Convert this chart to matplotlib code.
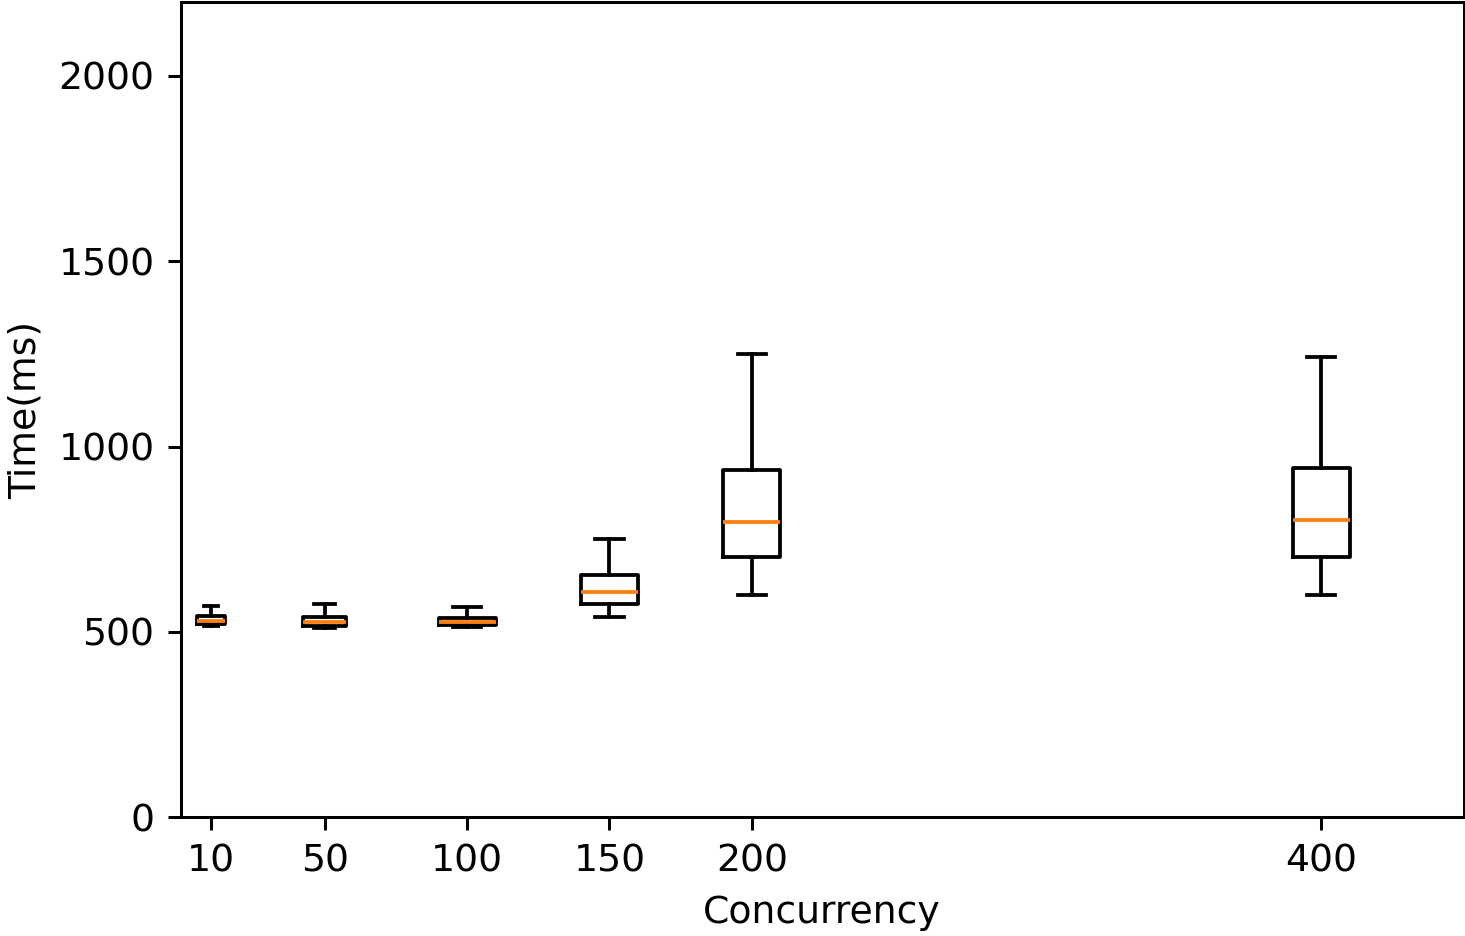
import matplotlib
matplotlib.use('Agg')
from matplotlib import pyplot as plt

# concurrency levels and box statistics (ms)
concurrency = [10, 50, 100, 150, 200, 400]
whislo = [515, 511, 514, 541, 600, 600]
q1 = [522, 516, 519, 576, 703, 703]
med = [530, 527, 527, 608, 797, 803]
q3 = [542, 540, 538, 654, 938, 941]
whishi = [570, 576, 568, 751, 1249, 1241]
box_widths = [10, 15, 20, 20, 20, 20]
yticks = [0, 500, 1000, 1500, 2000]

stats = []
for i in range(len(concurrency)):
    stats.append({'whislo': whislo[i], 'q1': q1[i], 'med': med[i],
                  'q3': q3[i], 'whishi': whishi[i], 'fliers': []})

dpi = 272
fig, ax = plt.subplots(figsize=(1465 / dpi, 936 / dpi), dpi=dpi)
ax.bxp(stats, positions=concurrency, widths=box_widths, showfliers=False)

ax.set_xlim(-0.5, 450)
ax.set_ylim(0, 2200)
ax.set_xticks(concurrency)
ax.set_xticklabels([str(c) for c in concurrency])
ax.set_yticks(yticks)
ax.set_xlabel('Concurrency')
ax.set_ylabel('Time(ms)')

fig.subplots_adjust(left=0.1235, right=0.999, top=0.998, bottom=0.127)
fig.savefig('out.png', dpi=dpi)
